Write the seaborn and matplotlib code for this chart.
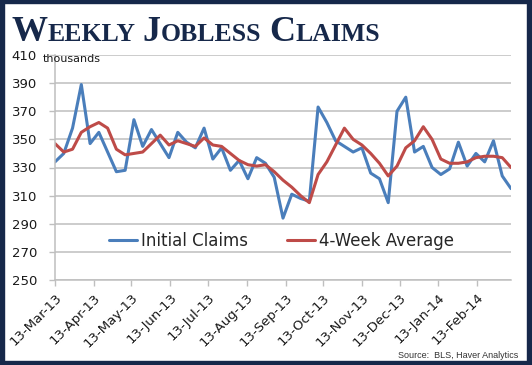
import numpy as np
import pandas as pd
import matplotlib
matplotlib.use("Agg")
import matplotlib.pyplot as plt
import matplotlib.dates as mdates
from matplotlib.patches import Rectangle
import seaborn as sns

# ---------------- data ----------------
start_date = "2013-03-13"
n_weeks = 53
initial_claims = [334, 340, 358, 389, 347, 355, 341, 327, 328, 364,
                  345, 357, 347, 337, 355, 348, 344, 358, 336, 344,
                  328, 335, 322, 337, 333, 323, 294, 311, 308, 306,
                  373, 362, 349, 345, 341, 344, 326, 322, 305, 370,
                  380, 341, 345, 330, 325, 329, 348, 331, 340, 334,
                  349, 324, 315]
four_week_avg = [347, 341, 343, 355, 359, 362, 358, 343, 339, 340,
                 341, 347, 353, 346, 349, 347, 345, 351, 346, 345,
                 340, 335, 332, 331, 332, 327, 321, 316, 310, 305,
                 325, 334, 346, 358, 350, 346, 340, 333, 324, 331,
                 344, 349, 359, 350, 336, 333, 333, 334, 337, 338,
                 338, 337, 330]
series_names = ["Initial Claims", "4-Week Average"]
y_ticks = [250, 270, 290, 310, 330, 350, 370, 390, 410]
tick_months = pd.date_range("2013-03-01", "2014-02-01", freq="MS") + pd.Timedelta(days=12)

dates = pd.date_range(start_date, periods=n_weeks, freq="7D")
df = pd.concat([
    pd.DataFrame({"date": dates, "value": initial_claims, "series": series_names[0]}),
    pd.DataFrame({"date": dates, "value": four_week_avg, "series": series_names[1]}),
])

# ---------------- style ----------------
sns.set_theme(style="white")
plt.rcParams["font.family"] = ["DejaVu Sans"]
NAVY = "#16284a"
BLUE = "#4a7ebb"
RED = "#be4b48"
GRID = "#bfbfbf"

W, H = 532, 365
fig = plt.figure(figsize=(W / 100, H / 100), dpi=100)
fig.patch.set_facecolor("white")
ax = fig.add_axes([55 / W, 1 - 280 / H, (511 - 55) / W, (280 - 55) / H])

sns.lineplot(data=df, x="date", y="value", hue="series",
             palette=[BLUE, RED], linewidth=2.2, ax=ax, legend=False)

ax.set_xlim(dates[0], dates[-1])
ax.set_ylim(250, 410)
ax.set_yticks(y_ticks)
ax.set_yticklabels([str(v) for v in y_ticks], fontsize=9.5, color="#1a1a1a")
ax.set_xticks(tick_months)
ax.xaxis.set_major_formatter(mdates.DateFormatter("%d-%b-%y"))
for lab in ax.get_xticklabels():
    lab.set_rotation(45)
    lab.set_ha("right")
    lab.set_rotation_mode("anchor")
    lab.set_fontsize(9.5)
    lab.set_color("#1a1a1a")
ax.set_xlabel("")
ax.set_ylabel("")
ax.grid(axis="y", color=GRID, linewidth=1.1)
ax.set_axisbelow(True)
for s in ["top", "right"]:
    ax.spines[s].set_visible(False)
for s in ["left", "bottom"]:
    ax.spines[s].set_color(GRID)
    ax.spines[s].set_linewidth(1.1)
ax.tick_params(axis="x", which="major", direction="out", length=4, width=1.0,
               color=GRID, pad=4, bottom=True)
ax.tick_params(axis="y", which="major", direction="out", length=4, width=1.0,
               color=GRID, pad=9, left=True)

handles = [plt.Line2D([], [], color=BLUE, lw=2.2), plt.Line2D([], [], color=RED, lw=2.2)]
ax.legend(handles, series_names, loc="center", bbox_to_anchor=(0.497, 0.172),
          ncol=2, frameon=False, fontsize=12, handlelength=1.7,
          handletextpad=0.25, columnspacing=2.3)

fig.text(43 / W, 1 - 61.5 / H, "thousands", fontsize=8, color="#1a1a1a",
         ha="left", va="baseline")
fig.text(518 / W, 1 - 358 / H, "Source:  BLS, Haver Analytics", fontsize=6.5,
         color="#333333", ha="right", va="baseline", family="Liberation Sans")

# ---------------- small-caps title ----------------
renderer = fig.canvas.get_renderer()
pieces = [("W", 26), ("EEKLY", 18.5), (" ", 18.5), ("J", 26), ("OBLESS", 18.5),
          (" ", 18.5), ("C", 26), ("LAIMS", 18.5)]
x_px = 11
base_y = 1 - 41 / H
for txt, size in pieces:
    t = fig.text(x_px / W, base_y, txt, fontsize=size, color=NAVY,
                 family="Liberation Serif", weight="bold", ha="left", va="baseline")
    if txt == " ":
        x_px += size * 100 / 72 * 0.3
        t.remove()
    else:
        x_px += t.get_window_extent(renderer).width

# ---------------- frame ----------------
for (x0, y0, w, h) in [(0, 0, 4, H), (527, 0, 5, H), (0, 0, W, 3), (0, H - 4, W, 4)]:
    fig.patches.append(Rectangle((x0 / W, 1 - (y0 + h) / H), w / W, h / H,
                                 transform=fig.transFigure, color=NAVY, zorder=10))

fig.savefig("out.png", dpi=100)
